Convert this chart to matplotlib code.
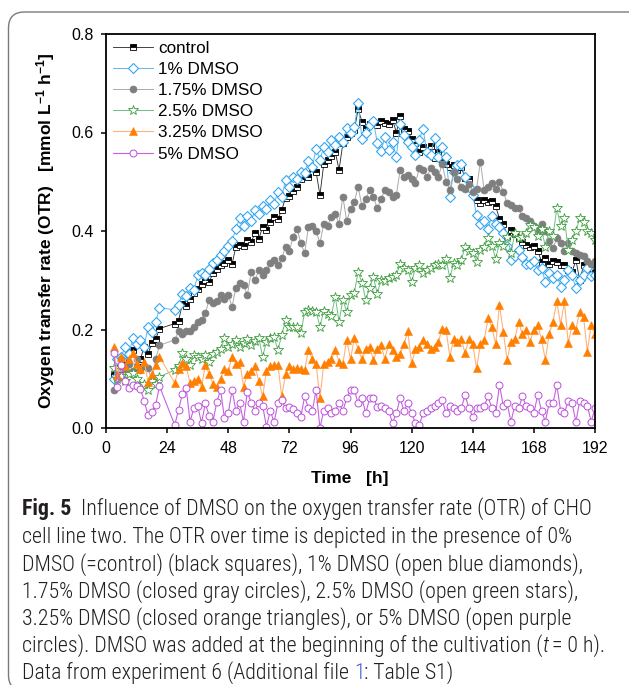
import numpy as np
import matplotlib
matplotlib.use("Agg")
import matplotlib.pyplot as plt
from matplotlib.patches import FancyBboxPatch
from matplotlib.transforms import IdentityTransform
from matplotlib import font_manager
from matplotlib.font_manager import FontProperties

# ---------------- data ----------------
time_early = [3.0, 4.5, 6.0, 7.5, 9.0, 10.5, 12.0, 13.5, 15.0, 16.5, 18.0, 19.5, 21.0]
time_main = list(np.arange(27.0, 192.01, 1.5))
time_h = time_early + time_main

control = [0.110, 0.135, 0.120, 0.128, 0.152, 0.158, 0.124, 0.140, 0.165, 0.150, 0.172, 0.180, 0.202,
    0.212, 0.218, 0.252, 0.248, 0.262, 0.275, 0.283, 0.292, 0.300, 0.296,
    0.315, 0.322, 0.330, 0.336, 0.342, 0.333, 0.368, 0.372, 0.370, 0.382,
    0.378, 0.395, 0.384, 0.408, 0.402, 0.418, 0.428, 0.425, 0.442, 0.468,
    0.471, 0.482, 0.490, 0.505, 0.515, 0.510, 0.528, 0.520, 0.473, 0.536,
    0.545, 0.552, 0.561, 0.524, 0.578, 0.590, 0.598, 0.605, 0.647, 0.622,
    0.610, 0.618, 0.622, 0.616, 0.624, 0.620, 0.618, 0.626, 0.600, 0.633,
    0.607, 0.604, 0.586, 0.578, 0.561, 0.570, 0.565, 0.572, 0.548, 0.560,
    0.545, 0.537, 0.530, 0.535, 0.524, 0.530, 0.507, 0.505, 0.476, 0.462,
    0.456, 0.462, 0.458, 0.460, 0.450, 0.425, 0.415, 0.390, 0.402, 0.394,
    0.385, 0.378, 0.372, 0.368, 0.370, 0.360, 0.338, 0.345, 0.334, 0.340,
    0.338, 0.330, 0.331, 0.320, 0.317, 0.341, 0.300, 0.330, 0.317, 0.332, 0.315]

dmso_1 = [0.100, 0.140, 0.145, 0.165, 0.150, 0.182, 0.170, 0.179, 0.165, 0.206, 0.195, 0.215, 0.244,
    0.240, 0.250, 0.273, 0.268, 0.284, 0.280, 0.310, 0.315, 0.310, 0.322,
    0.335, 0.341, 0.351, 0.360, 0.370, 0.380, 0.405, 0.426, 0.410, 0.430,
    0.420, 0.442, 0.435, 0.450, 0.445, 0.462, 0.455, 0.480, 0.470, 0.503,
    0.490, 0.510, 0.505, 0.520, 0.517, 0.543, 0.530, 0.567, 0.545, 0.570,
    0.560, 0.584, 0.575, 0.590, 0.580, 0.610, 0.598, 0.612, 0.660, 0.586,
    0.600, 0.615, 0.624, 0.579, 0.563, 0.590, 0.564, 0.580, 0.551, 0.618,
    0.595, 0.580, 0.570, 0.554, 0.585, 0.608, 0.560, 0.555, 0.588, 0.551,
    0.570, 0.551, 0.470, 0.520, 0.535, 0.537, 0.510, 0.490, 0.473, 0.432,
    0.415, 0.420, 0.405, 0.430, 0.415, 0.409, 0.395, 0.370, 0.341, 0.350,
    0.361, 0.348, 0.334, 0.334, 0.340, 0.320, 0.325, 0.297, 0.314, 0.304,
    0.310, 0.287, 0.300, 0.320, 0.310, 0.284, 0.300, 0.310, 0.324, 0.309, 0.310]

dmso_175 = [0.077, 0.100, 0.140, 0.120, 0.130, 0.115, 0.140, 0.118, 0.125, 0.121, 0.097, 0.140, 0.168,
    0.179, 0.196, 0.190, 0.196, 0.197, 0.205, 0.216, 0.220, 0.233, 0.260,
    0.253, 0.258, 0.270, 0.262, 0.270, 0.246, 0.285, 0.294, 0.290, 0.270,
    0.317, 0.300, 0.320, 0.310, 0.320, 0.335, 0.341, 0.330, 0.345, 0.368,
    0.360, 0.388, 0.405, 0.375, 0.355, 0.409, 0.410, 0.400, 0.375, 0.415,
    0.410, 0.429, 0.435, 0.415, 0.470, 0.420, 0.445, 0.459, 0.490, 0.450,
    0.465, 0.483, 0.470, 0.446, 0.465, 0.483, 0.480, 0.470, 0.473, 0.524,
    0.510, 0.514, 0.505, 0.497, 0.527, 0.524, 0.510, 0.527, 0.520, 0.510,
    0.537, 0.500, 0.483, 0.520, 0.505, 0.490, 0.486, 0.495, 0.480, 0.485,
    0.541, 0.483, 0.490, 0.497, 0.485, 0.500, 0.480, 0.456, 0.452, 0.446,
    0.446, 0.430, 0.426, 0.420, 0.410, 0.399, 0.415, 0.400, 0.380, 0.365,
    0.385, 0.375, 0.360, 0.375, 0.360, 0.355, 0.351, 0.350, 0.340, 0.334, 0.340]

dmso_25 = [0.121, 0.100, 0.105, 0.095, 0.110, 0.111, 0.100, 0.085, 0.090, 0.077, 0.095, 0.090, 0.104,
    0.118, 0.125, 0.152, 0.140, 0.128, 0.148, 0.145, 0.140, 0.148, 0.135,
    0.150, 0.155, 0.160, 0.182, 0.165, 0.170, 0.179, 0.165, 0.172, 0.180,
    0.168, 0.177, 0.182, 0.145, 0.175, 0.182, 0.185, 0.158, 0.189, 0.219,
    0.205, 0.205, 0.205, 0.192, 0.236, 0.240, 0.238, 0.236, 0.206, 0.238,
    0.232, 0.228, 0.267, 0.216, 0.260, 0.236, 0.270, 0.275, 0.317, 0.295,
    0.260, 0.285, 0.307, 0.273, 0.300, 0.298, 0.305, 0.307, 0.310, 0.334,
    0.325, 0.320, 0.297, 0.325, 0.331, 0.315, 0.320, 0.325, 0.330, 0.334,
    0.330, 0.344, 0.304, 0.335, 0.330, 0.341, 0.368, 0.360, 0.355, 0.338,
    0.361, 0.368, 0.385, 0.370, 0.344, 0.375, 0.370, 0.388, 0.355, 0.395,
    0.385, 0.388, 0.395, 0.412, 0.409, 0.390, 0.405, 0.368, 0.400, 0.390,
    0.446, 0.410, 0.426, 0.361, 0.382, 0.400, 0.426, 0.419, 0.399, 0.395, 0.382]

dmso_325 = [0.165, 0.108, 0.145, 0.125, 0.140, 0.152, 0.130, 0.120, 0.135, 0.094, 0.110, 0.128, 0.145,
    0.091, 0.120, 0.131, 0.125, 0.091, 0.095, 0.100, 0.084, 0.128, 0.110,
    0.090, 0.084, 0.100, 0.120, 0.115, 0.145, 0.130, 0.135, 0.084, 0.110,
    0.115, 0.125, 0.095, 0.064, 0.115, 0.125, 0.128, 0.128, 0.064, 0.110,
    0.125, 0.120, 0.122, 0.120, 0.118, 0.158, 0.140, 0.130, 0.060, 0.130,
    0.135, 0.140, 0.158, 0.135, 0.130, 0.179, 0.140, 0.182, 0.160, 0.140,
    0.160, 0.165, 0.138, 0.160, 0.168, 0.140, 0.170, 0.158, 0.145, 0.150,
    0.170, 0.196, 0.131, 0.160, 0.165, 0.179, 0.170, 0.160, 0.165, 0.175,
    0.202, 0.200, 0.145, 0.180, 0.175, 0.180, 0.152, 0.180, 0.170, 0.121,
    0.170, 0.178, 0.223, 0.205, 0.170, 0.250, 0.195, 0.138, 0.175, 0.180,
    0.216, 0.190, 0.200, 0.175, 0.199, 0.210, 0.180, 0.138, 0.190, 0.216,
    0.257, 0.210, 0.257, 0.172, 0.210, 0.200, 0.236, 0.225, 0.155, 0.210, 0.190]

dmso_5 = [0.152, 0.083, 0.128, 0.095, 0.082, 0.087, 0.085, 0.080, 0.055, 0.026, 0.033, 0.047, 0.085,
    0.006, 0.037, 0.070, 0.081, 0.013, 0.040, 0.045, 0.010, 0.050, 0.025,
    0.013, 0.053, 0.077, 0.020, 0.030, 0.077, 0.035, 0.050, 0.013, 0.074,
    0.050, 0.035, 0.050, 0.045, 0.003, 0.035, 0.012, 0.050, 0.057, 0.040,
    0.042, 0.038, 0.030, 0.023, 0.064, 0.040, 0.035, 0.077, 0.000, 0.035,
    0.040, 0.030, 0.035, 0.050, 0.035, 0.060, 0.077, 0.077, 0.050, 0.060,
    0.030, 0.060, 0.060, 0.043, 0.045, 0.040, 0.035, 0.010, 0.030, 0.060,
    0.035, 0.050, 0.030, 0.010, 0.006, 0.030, 0.035, 0.040, 0.045, 0.050,
    0.057, 0.030, 0.045, 0.040, 0.035, 0.040, 0.067, 0.040, 0.023, 0.040,
    0.040, 0.045, 0.064, 0.040, 0.030, 0.087, 0.045, 0.050, 0.013, 0.045,
    0.040, 0.064, 0.045, 0.040, 0.030, 0.067, 0.035, 0.013, 0.050, 0.050,
    0.087, 0.035, 0.030, 0.055, 0.050, 0.013, 0.055, 0.050, 0.045, 0.013, 0.040]

series_labels = ["control", "1% DMSO", "1.75% DMSO", "2.5% DMSO", "3.25% DMSO", "5% DMSO"]
x_ticks = [0, 24, 48, 72, 96, 120, 144, 168, 192]
y_ticks = [0.0, 0.2, 0.4, 0.6, 0.8]
y_tick_labels = ["0.0", "0.2", "0.4", "0.6", "0.8"]

caption_lines = [
    "Influence of DMSO on the oxygen transfer rate (OTR) of CHO",
    "cell line two. The OTR over time is depicted in the presence of 0%",
    "DMSO (=control) (black squares), 1% DMSO (open blue diamonds),",
    "1.75% DMSO (closed gray circles), 2.5% DMSO (open green stars),",
    "3.25% DMSO (closed orange triangles), or 5% DMSO (open purple",
    "circles). DMSO was added at the beginning of the cultivation (",
    "Data from experiment 6 (Additional file",
]

# ---------------- style ----------------
W, H = 629, 685
plt.rcParams['font.family'] = ['Liberation Sans', 'DejaVu Sans']
plt.rcParams['mathtext.fontset'] = 'custom'
plt.rcParams['mathtext.rm'] = 'Liberation Sans'
plt.rcParams['mathtext.bf'] = 'Liberation Sans:bold'
plt.rcParams['mathtext.default'] = 'bf'


def wnum(w):
    if isinstance(w, (int, float)):
        return w
    return font_manager.weight_dict.get(str(w).lower(), 400)


# pick a caption font: narrow / humanist sans with a light or regular face
entries = font_manager.fontManager.ttflist
cands = ['Liberation Sans Narrow', 'Open Sans SemiCondensed', 'Open Sans Condensed',
         'Noto Sans SemiCondensed', 'Noto Sans Condensed', 'Roboto Condensed',
         'Open Sans', 'Lato', 'Noto Sans', 'Roboto']
reg_fp = bold_fp = ital_fp = None
for c in cands:
    regs = [e for e in entries if e.name == c and e.style == 'normal'
            and 280 <= wnum(e.weight) <= 400]
    if not regs:
        continue
    regs.sort(key=lambda e: abs(wnum(e.weight) - 340))
    reg_fp = FontProperties(fname=regs[0].fname)
    bolds = [e for e in entries if e.name == c and e.style == 'normal' and wnum(e.weight) >= 600]
    bolds.sort(key=lambda e: abs(wnum(e.weight) - 700))
    bold_fp = FontProperties(fname=bolds[0].fname) if bolds else FontProperties(family=c, weight='bold')
    itals = [e for e in entries if e.name == c and e.style in ('italic', 'oblique')
             and wnum(e.weight) <= 400]
    itals.sort(key=lambda e: abs(wnum(e.weight) - 340))
    ital_fp = FontProperties(fname=itals[0].fname) if itals else FontProperties(family=c, style='italic')
    break
if reg_fp is None:
    reg_fp = FontProperties(family='DejaVu Sans')
    bold_fp = FontProperties(family='DejaVu Sans', weight='bold')
    ital_fp = FontProperties(family='DejaVu Sans', style='italic')

fig = plt.figure(figsize=(W / 100, H / 100), dpi=100)
ax = fig.add_axes([106 / W, 1 - 428 / H, 489 / W, 394 / H])

styles = [
    dict(color='#222222', lw=0.6, marker='s', ms=4.2, mfc='black', mfcalt='white',
         fillstyle='top', mec='black', mew=0.6),
    dict(color='#5BBAF2', lw=0.7, marker='D', ms=4.6, mfc='white', mec='#33A6F0', mew=0.8),
    dict(color='#AAAAAA', lw=0.7, marker='o', ms=5.0, mfc='#7F7F7F', mec='#7F7F7F', mew=0.5),
    dict(color='#6CBF82', lw=0.7, marker='*', ms=7.0, mfc='white', mec='#3C9C3C', mew=0.6),
    dict(color='#FFB27A', lw=0.8, marker='^', ms=5.5, mfc='#FF7F00', mec='#FF7F00', mew=0.4),
    dict(color='#C462E2', lw=0.8, marker='o', ms=5.0, mfc='white', mec='#BB4DDB', mew=0.7),
]
all_series = [control, dmso_1, dmso_175, dmso_25, dmso_325, dmso_5]
handles = []
for vals, lab, st in zip(all_series, series_labels, styles):
    h, = ax.plot(time_h, vals, label=lab, **st)
    handles.append(h)

ax.set_xlim(0, 192)
ax.set_ylim(0, 0.8)
ax.set_xticks(x_ticks)
ax.set_yticks(y_ticks)
ax.set_yticklabels(y_tick_labels)
ax.tick_params(direction='out', length=3.6, width=1.1, labelsize=11.5, pad=5.5,
               top=False, right=False)
for s in ax.spines.values():
    s.set_linewidth(1.3)

leg = ax.legend(handles=handles, loc='upper left', bbox_to_anchor=(0.0, 1.0),
                frameon=False, fontsize=12.3, handlelength=2.35, handletextpad=0.3,
                labelspacing=0.36, borderaxespad=0.3, borderpad=0.1, numpoints=1)

# axis labels
fig.text(350 / W, 1 - 479 / H, "Time   [h]", ha='center', va='center',
         fontsize=12.5, fontweight='bold')
fig.text(46 / W, 1 - 231 / H,
         r"Oxygen transfer rate (OTR)   [mmol L$^{-1}$ h$^{-1}$]",
         rotation=90, ha='center', va='center', fontsize=12.5, fontweight='bold')

# border box
box = FancyBboxPatch((8.5, -6), 660, H - 12 + 6, boxstyle="round,pad=0,rounding_size=16",
                     transform=IdentityTransform(), fill=False, ec='#7a7a7a', lw=1.0)
fig.patches.append(box)

# caption
renderer = fig.canvas.get_renderer()
cap_col = '#231f20'


def adv(s, fp, size, **kw):
    p = fp.copy()
    p.set_size(size)
    t1 = fig.text(0, 0, '|' + s + '|', fontproperties=p, **kw)
    t2 = fig.text(0, 0, '||', fontproperties=p, **kw)
    w = t1.get_window_extent(renderer).width - t2.get_window_extent(renderer).width
    t1.remove()
    t2.remove()
    return w


w10 = adv(caption_lines[5] + "t = 0 h).", reg_fp, 10)
cap_size = 10 * 584 / w10


def put(x, ybase, segs):
    for s, fp, col, gap in segs:
        x += gap
        p = fp.copy()
        p.set_size(cap_size)
        fig.text(x / W, 1 - ybase / H, s, ha='left', va='baseline', fontproperties=p, color=col)
        x += adv(s, fp, cap_size)


sp = adv(' ', reg_fp, cap_size)
blue = '#3B5BD9'
baselines = [515, 543, 571, 598, 625, 652, 679]
x0 = 22
put(x0, baselines[0], [("Fig. 5", bold_fp, cap_col, 0), (caption_lines[0], reg_fp, cap_col, sp * 2)])
for i in range(1, 5):
    put(x0, baselines[i], [(caption_lines[i], reg_fp, cap_col, 0)])
put(x0, baselines[5], [(caption_lines[5], reg_fp, cap_col, 0), ("t", ital_fp, cap_col, 0),
                       ("= 0 h).", reg_fp, cap_col, sp * 0.6)])
put(x0, baselines[6], [(caption_lines[6], reg_fp, cap_col, 0), ("1", reg_fp, blue, sp),
                       (": Table S1)", reg_fp, cap_col, 0)])

fig.savefig("out.png", dpi=100)
